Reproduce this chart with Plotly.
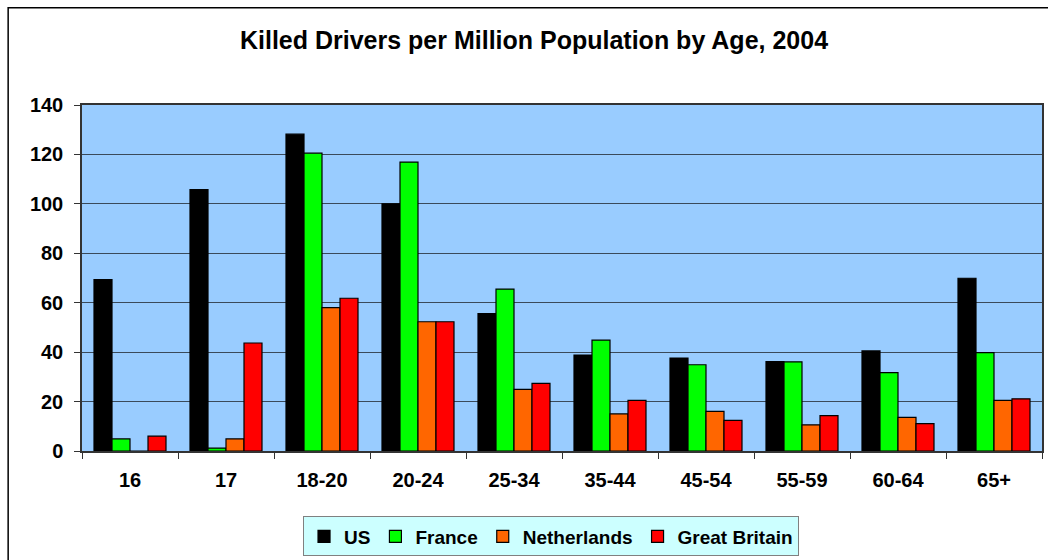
import plotly.graph_objects as go

categories = ["16", "17", "18-20", "20-24", "25-34", "35-44", "45-54", "55-59", "60-64", "65+"]
us = [69.4, 105.8, 128.2, 100.0, 55.6, 38.8, 37.6, 36.2, 40.5, 69.9]
france = [4.9, 1.2, 120.5, 116.9, 65.5, 44.9, 34.9, 36.1, 31.7, 39.8]
netherlands = [0.0, 4.9, 58.0, 52.3, 24.9, 15.0, 16.0, 10.6, 13.6, 20.5]
great_britain = [6.0, 43.7, 61.8, 52.3, 27.4, 20.5, 12.4, 14.3, 11.1, 21.1]
series_names = ["US", "France", "Netherlands", "Great Britain"]
series_colors = ["#000000", "#00FF00", "#FF6600", "#FF0000"]
y_ticks = [0, 20, 40, 60, 80, 100, 120, 140]

FONT = "Liberation Sans, Arial, sans-serif"

fig = go.Figure()
for name, vals, col in zip(series_names, [us, france, netherlands, great_britain], series_colors):
    fig.add_trace(go.Bar(
        x=categories, y=vals, name=name,
        marker=dict(color=col, line=dict(color="#000000", width=1.2)),
    ))

W, H = 1048, 560
L, R, T, B = 82, 4, 105, 106
pw = W - L - R
ph = H - T - B

def px_x(p):
    return (p - L) / pw

def px_y(p):
    return (H - B - p) / ph

fig.update_layout(
    width=W, height=H,
    margin=dict(l=L, r=R, t=T, b=B),
    paper_bgcolor="#FFFFFF",
    plot_bgcolor="#99CCFF",
    barmode="group",
    bargap=0.25,
    bargroupgap=0,
    font=dict(family=FONT, color="#000000"),
    title=dict(
        text="<b>Killed Drivers per Million Population by Age, 2004</b>",
        x=534 / W, xanchor="center",
        y=1 - 40 / H, yanchor="middle",
        font=dict(family=FONT, size=25, color="#000000"),
    ),
    legend=dict(
        orientation="h",
        x=px_x(552), xanchor="center",
        y=px_y(520), yanchor="top",
        bgcolor="#CCFFFF",
        bordercolor="#808080", borderwidth=1,
        font=dict(family=FONT, size=19, color="#000000", weight="bold"),
        itemwidth=30,
        traceorder="normal",
    ),
    xaxis=dict(
        type="category",
        showgrid=False,
        showline=True, linecolor="#333333", linewidth=1.5,
        ticks="outside", ticklen=6, tickcolor="#333333",
        tickson="boundaries",
        tickfont=dict(family=FONT, size=20, color="#000000", weight="bold"),
        ticklabelstandoff=10,
        mirror=True,
    ),
    yaxis=dict(
        range=[0, 140],
        tickvals=y_ticks,
        showgrid=True, gridcolor="#3A4A5A", gridwidth=1.2,
        showline=True, linecolor="#333333", linewidth=1.5,
        ticks="outside", ticklen=6, tickcolor="#333333",
        tickfont=dict(family=FONT, size=20, color="#000000", weight="bold"),
        ticklabelstandoff=7,
        zeroline=False,
        mirror=True,
    ),
    shapes=[dict(
        type="rect", xref="paper", yref="paper",
        x0=px_x(8), x1=px_x(1070), y0=px_y(600), y1=px_y(7),
        line=dict(color="#000000", width=1.5),
        fillcolor="rgba(0,0,0,0)", layer="below",
    )],
)

fig.write_html(
    "out.html",
    config={"displayModeBar": False},
    post_script="document.body.style.margin='0';",
)
